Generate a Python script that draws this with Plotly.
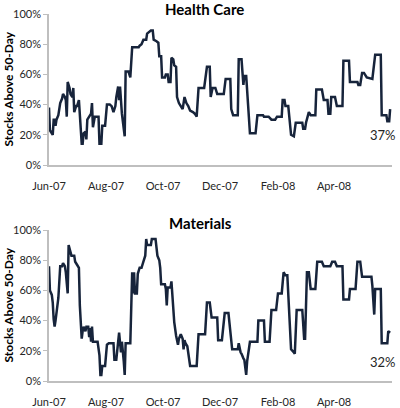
import plotly.graph_objects as go
from plotly.subplots import make_subplots

hc_dates = ["2007-06-01","2007-06-02","2007-06-05","2007-06-06","2007-06-07","2007-06-08","2007-06-09","2007-06-11","2007-06-13","2007-06-15",
"2007-06-16","2007-06-18","2007-06-19","2007-06-20","2007-06-21","2007-06-23","2007-06-24","2007-06-26","2007-06-27","2007-06-28",
"2007-06-30","2007-07-01","2007-07-03","2007-07-04","2007-07-06","2007-07-07","2007-07-08","2007-07-10","2007-07-11","2007-07-12",
"2007-07-14","2007-07-16","2007-07-17","2007-07-18","2007-07-20","2007-07-22","2007-07-24","2007-07-25","2007-07-27","2007-07-28",
"2007-07-31","2007-08-02","2007-08-05","2007-08-07","2007-08-09","2007-08-11","2007-08-12","2007-08-14","2007-08-15","2007-08-16",
"2007-08-18","2007-08-21","2007-08-22","2007-08-25","2007-08-27","2007-08-29","2007-09-01","2007-09-05","2007-09-06","2007-09-08",
"2007-09-10","2007-09-13","2007-09-14","2007-09-16","2007-09-18","2007-09-20","2007-09-21","2007-09-24","2007-09-26","2007-09-27",
"2007-09-29","2007-09-30","2007-10-03","2007-10-04","2007-10-06","2007-10-07","2007-10-09","2007-10-10","2007-10-12","2007-10-13",
"2007-10-15","2007-10-16","2007-10-18","2007-10-20","2007-10-22","2007-10-24","2007-10-25","2007-10-26","2007-10-28","2007-10-30",
"2007-11-02","2007-11-04","2007-11-06","2007-11-08","2007-11-14","2007-11-17","2007-11-20","2007-11-21","2007-11-23","2007-11-26",
"2007-11-28","2007-12-05","2007-12-07","2007-12-12","2007-12-13","2007-12-15","2007-12-20","2007-12-21","2007-12-24","2007-12-26",
"2007-12-27","2007-12-29","2007-12-31","2008-01-01","2008-01-02","2008-01-08","2008-01-10","2008-01-16","2008-01-17","2008-01-22",
"2008-01-25","2008-01-29","2008-01-31","2008-02-05","2008-02-06","2008-02-08","2008-02-09","2008-02-12","2008-02-14","2008-02-15",
"2008-02-18","2008-02-20","2008-02-27","2008-02-28","2008-03-01","2008-03-02","2008-03-05","2008-03-07","2008-03-12","2008-03-13",
"2008-03-19","2008-03-21","2008-03-25","2008-03-26","2008-03-28","2008-03-29","2008-04-02","2008-04-04","2008-04-10","2008-04-11",
"2008-04-17","2008-04-18","2008-04-26","2008-04-27","2008-04-29","2008-05-01","2008-05-03","2008-05-06","2008-05-12","2008-05-14",
"2008-05-15","2008-05-21","2008-05-22","2008-05-27","2008-05-28","2008-05-30","2008-05-31"]
hc_values = [38,23,20,30,30,26,30,33,41,44,
47,45,43,32,55,51,47,45,51,35,
39,39,43,34,14,14,21,22,17,30,
32,34,41,25,32,32,32,14,14,26,
26,40,40,39,35,39,45,52,43,52,
34,19,62,62,58,78,78,78,79,80,
83,83,87,88,89,89,83,82,81,72,
72,58,58,60,60,55,55,71,70,66,
65,45,41,39,37,45,42,41,39,36,
35,34,32,51,51,65,65,45,51,51,
47,47,57,57,37,33,33,70,70,53,
59,59,40,27,21,21,33,33,32,32,
30,30,32,32,43,43,39,39,25,20,
19,28,28,24,24,28,35,33,33,50,
50,43,43,34,34,45,45,39,39,69,
69,55,55,53,53,61,61,58,57,66,
73,73,33,33,29,29,37]

mat_dates = ["2007-06-01","2007-06-02","2007-06-04","2007-06-05","2007-06-06","2007-06-07","2007-06-08","2007-06-09","2007-06-11","2007-06-13",
"2007-06-15","2007-06-16","2007-06-18","2007-06-19","2007-06-21","2007-06-22","2007-06-23","2007-06-25","2007-06-28","2007-06-29",
"2007-07-01","2007-07-03","2007-07-04","2007-07-06","2007-07-07","2007-07-08","2007-07-10","2007-07-11","2007-07-13","2007-07-14",
"2007-07-15","2007-07-16","2007-07-17","2007-07-18","2007-07-23","2007-07-25","2007-07-26","2007-07-27","2007-07-28","2007-07-31",
"2007-08-02","2007-08-04","2007-08-09","2007-08-10","2007-08-12","2007-08-14","2007-08-15","2007-08-17","2007-08-18","2007-08-20",
"2007-08-21","2007-08-22","2007-08-27","2007-08-29","2007-08-30","2007-08-31","2007-09-01","2007-09-03","2007-09-04","2007-09-06",
"2007-09-08","2007-09-10","2007-09-12","2007-09-13","2007-09-14","2007-09-18","2007-09-19","2007-09-23","2007-09-24","2007-09-25",
"2007-09-27","2007-09-28","2007-09-29","2007-10-03","2007-10-04","2007-10-05","2007-10-06","2007-10-09","2007-10-10","2007-10-12",
"2007-10-13","2007-10-15","2007-10-17","2007-10-18","2007-10-20","2007-10-22","2007-10-23","2007-10-24","2007-10-25","2007-10-27",
"2007-10-29","2007-10-30","2007-11-06","2007-11-08","2007-11-15","2007-11-17","2007-11-20","2007-11-22","2007-11-28","2007-11-29",
"2007-12-03","2007-12-06","2007-12-10","2007-12-13","2007-12-14","2007-12-20","2007-12-21","2007-12-23","2007-12-24","2007-12-26",
"2007-12-27","2007-12-29","2007-12-30","2008-01-02","2008-01-10","2008-01-11","2008-01-17","2008-01-18","2008-01-23","2008-01-25",
"2008-01-30","2008-02-01","2008-02-05","2008-02-07","2008-02-09","2008-02-11","2008-02-13","2008-02-15","2008-02-18","2008-02-19",
"2008-02-21","2008-02-27","2008-02-29","2008-03-01","2008-03-03","2008-03-05","2008-03-07","2008-03-12","2008-03-14","2008-03-19",
"2008-03-21","2008-03-28","2008-03-30","2008-04-02","2008-04-04","2008-04-10","2008-04-11","2008-04-17","2008-04-18","2008-04-24",
"2008-04-26","2008-04-29","2008-05-01","2008-05-11","2008-05-12","2008-05-14","2008-05-15","2008-05-21","2008-05-22","2008-05-28",
"2008-05-29","2008-05-31"]
mat_values = [76,60,57,52,41,36,40,46,55,76,
76,78,76,72,58,90,87,83,83,79,
77,75,50,28,33,36,33,36,36,29,
35,26,36,26,26,17,4,4,10,10,
24,25,25,14,14,26,32,19,26,13,
4,25,25,72,58,72,58,58,71,75,
75,79,83,94,90,90,94,94,90,83,
80,75,64,64,61,50,62,62,66,50,
39,30,24,28,31,28,21,27,25,23,
16,10,10,31,31,52,52,42,42,27,
27,45,45,27,21,21,25,19,18,15,
14,4,13,26,26,40,40,26,26,47,
47,58,58,72,70,70,43,21,19,18,
47,47,28,28,72,72,61,61,79,79,
76,76,79,79,76,76,54,54,61,61,
79,79,69,69,63,44,61,61,25,25,
33,32]

titles = ["Health Care", "Materials"]
last_labels = ["37%", "32%"]
y_title = "Stocks Above 50-Day"

LINE = "#17243b"
TXT = "#262626"
FONT = "Lato, 'Noto Sans', sans-serif"

W, H = 400, 408
ML, MR, MT, MB = 49, 8, 14, 27
PW, PH = W - ML - MR, H - MT - MB

def py(px):  # figure pixel y -> paper y
    return (H - MB - px) / PH

def px_(x):  # figure pixel x -> paper x
    return (x - ML) / PW

top = [py(165), 1.0]
bot = [0.0, py(230)]

fig = make_subplots(rows=2, cols=1)
series = [(hc_dates, hc_values), (mat_dates, mat_values)]
for i, (d, v) in enumerate(series, start=1):
    fig.add_trace(go.Scatter(x=d, y=v, mode="lines",
                             line=dict(color=LINE, width=2.5),
                             showlegend=False, hoverinfo="skip"), row=i, col=1)

fig.update_layout(
    template="none",
    width=W, height=H,
    margin=dict(l=ML, r=MR, t=MT, b=MB, autoexpand=False),
    paper_bgcolor="white", plot_bgcolor="white",
    font=dict(family=FONT, color=TXT, size=11),
    yaxis=dict(domain=top), yaxis2=dict(domain=bot),
)
for ax in ["xaxis", "xaxis2"]:
    fig.layout[ax].update(
        type="date", range=["2007-06-01", "2008-06-02"],
        tick0="2007-06-01", dtick="M2", tickformat="%b-%y",
        showgrid=False, zeroline=False, showline=True, automargin=False,
        linecolor="#bfbfbf", linewidth=1.5, ticks="", ticklabelstandoff=10,
        tickfont=dict(size=11, color=TXT, family=FONT),
    )
for ax in ["yaxis", "yaxis2"]:
    fig.layout[ax].update(
        range=[0, 100], dtick=20, tick0=0, ticksuffix="%",
        showgrid=False, zeroline=False, showline=True, automargin=False,
        linecolor="#bfbfbf", linewidth=1.5, ticks="outside",
        ticklen=4, tickcolor="#bfbfbf",
        tickfont=dict(size=11, color=TXT, family=FONT),
    )

# subplot titles
fig.add_annotation(text="<b>" + titles[0] + "</b>", xref="paper", yref="paper",
                   x=px_(204), y=py(9), yanchor="middle",
                   showarrow=False, font=dict(size=15, color="#000000", family=FONT))
fig.add_annotation(text="<b>" + titles[1] + "</b>", xref="paper", yref="paper",
                   x=px_(200), y=py(223), yanchor="middle",
                   showarrow=False, font=dict(size=15, color="#000000", family=FONT))
# y-axis titles
for dom in (top, bot):
    fig.add_annotation(text="<b>" + y_title + "</b>", xref="paper", yref="paper",
                       x=px_(8), y=(dom[0] + dom[1]) / 2, textangle=-90,
                       xanchor="center", yanchor="middle",
                       showarrow=False, font=dict(size=12, color="#000000", family=FONT))
# last value labels
fig.add_annotation(text=last_labels[0], xref="paper", yref="paper",
                   x=px_(398), y=py(135), xanchor="right", yanchor="middle",
                   showarrow=False, font=dict(size=13, color=TXT, family=FONT))
fig.add_annotation(text=last_labels[1], xref="paper", yref="paper",
                   x=px_(398), y=py(362), xanchor="right", yanchor="middle",
                   showarrow=False, font=dict(size=13, color=TXT, family=FONT))

fig.write_html("out.html", config={"displayModeBar": False},
               post_script="document.body.style.margin='0';document.body.style.overflow='hidden';")
